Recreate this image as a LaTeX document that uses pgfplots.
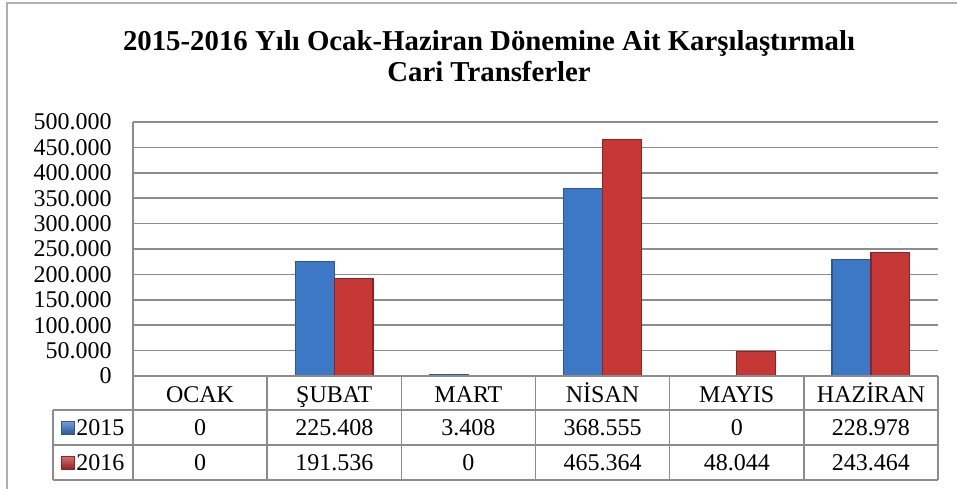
\documentclass[border=0pt]{standalone}
\usepackage{fontspec}
\setmainfont{Liberation Serif}
\usepackage{pgfplots}
\pgfplotsset{compat=1.18}
\definecolor{gridgray}{RGB}{140,140,140}
\definecolor{framegray}{RGB}{175,175,175}
\definecolor{blueA}{RGB}{44,88,150}
\definecolor{blueB}{RGB}{60,120,198}
\definecolor{redA}{RGB}{140,36,36}
\definecolor{redB}{RGB}{198,56,54}
\newcommand{\tabfont}{\fontsize{18}{20}\selectfont}
\begin{document}
\begin{tikzpicture}[x=0.75pt,y=0.75pt]
\useasboundingbox (0,0) rectangle (957,-489);
% outer chart frame
\draw[framegray, line width=1.2pt] (7,-3) rectangle (1100,-700);

% title
\node[anchor=base, font=\bfseries\fontsize{21.6}{25}\selectfont] at (489,-50)
  {2015-2016 Yılı Ocak-Haziran Dönemine Ait Karşılaştırmalı};
\node[anchor=base, font=\bfseries\fontsize{21.6}{25}\selectfont] at (489,-81)
  {Cari Transferler};

\begin{axis}[
    at={(99.75pt,-282pt)}, anchor=south west,
    width=603.75pt, height=190.5pt, scale only axis,
    xmin=0, xmax=6, ymin=0, ymax=500000,
    axis x line=none,
    axis y line*=left,
    y axis line style={-, draw=gridgray, line width=1.2pt},
    ytick={0,50000,...,500000},
    yticklabels={0,50.000,100.000,150.000,200.000,250.000,300.000,350.000,400.000,450.000,500.000},
    scaled y ticks=false,
    major tick length=0pt,
    ymajorgrids,
    grid style={draw=gridgray, line width=1.2pt},
    yticklabel style={font=\tabfont, anchor=east, inner sep=0pt, xshift=-15.75pt},
    ybar, bar width=0.29,
]
\addplot[bar shift=-0.145, draw=blueA, line width=1pt, fill=blueB]
  coordinates {(0.5,0) (1.5,225408) (2.5,3408) (3.5,368555) (4.5,0) (5.5,228978)};
\addplot[bar shift=0.145, draw=redA, line width=1pt, fill=redB]
  coordinates {(0.5,0) (1.5,191536) (2.5,0) (3.5,465364) (4.5,48044) (5.5,243464)};
\end{axis}

% data table
\begin{scope}[gridgray, line width=1.2pt]
\draw (133,-376) -- (938,-376);
\draw (53,-410) -- (938,-410);
\draw (53,-445) -- (938,-445);
\draw (53,-480) -- (938,-480);
\draw (53,-410) -- (53,-480);
\foreach \i in {0,...,6}
  \draw ({133+\i*134.1667},-376) -- ({133+\i*134.1667},-480);
\end{scope}

\begin{scope}[font=\tabfont]
\foreach \c/\a/\b [count=\i from 0] in
  {OCAK/0/0, ŞUBAT/225.408/191.536, MART/3.408/0,
   NİSAN/368.555/465.364, MAYIS/0/48.044, HAZİRAN/228.978/243.464} {
  \node[anchor=base] at ({133+(\i+0.5)*134.1667},-402) {\c};
  \node[anchor=base] at ({133+(\i+0.5)*134.1667},-435) {\a};
  \node[anchor=base] at ({133+(\i+0.5)*134.1667},-470) {\b};
}
\shade[top color=blueB!70!white, bottom color=blueA, draw=blueA, line width=0.3pt]
  (61,-421) rectangle (74,-434);
\shade[top color=redB!70!white, bottom color=redA, draw=redA, line width=0.3pt]
  (61,-456) rectangle (74,-469);
\node[anchor=base west, inner sep=0pt] at (76,-435) {2015};
\node[anchor=base west, inner sep=0pt] at (76,-470) {2016};
\end{scope}
\end{tikzpicture}
\end{document}
